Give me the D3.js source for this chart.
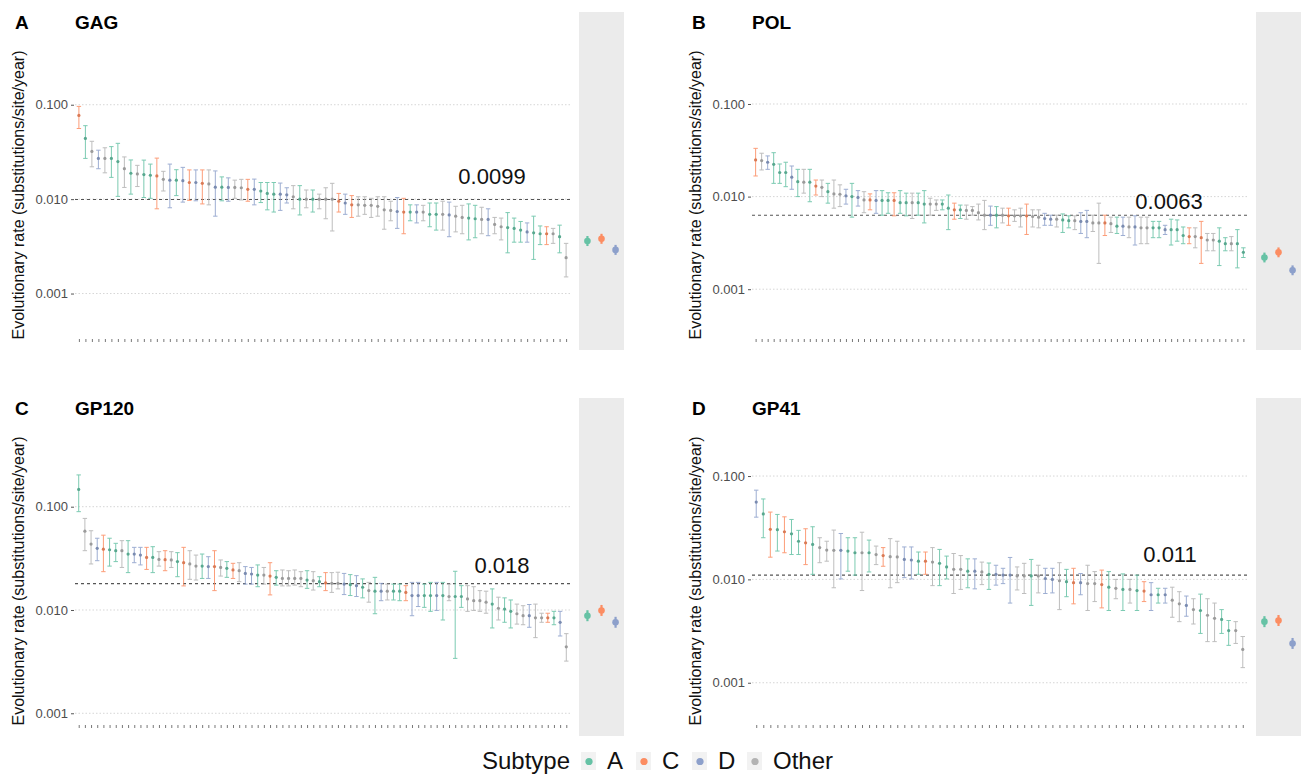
<!DOCTYPE html>
<html><head><meta charset="utf-8">
<script src="https://cdn.jsdelivr.net/npm/d3@7"></script>
<style>
body{margin:0;background:#fff}
svg{display:block}
text{font-family:"Liberation Sans",Arial,Helvetica,sans-serif}
</style>
</head><body>
<svg id="chart" width="1306" height="776"></svg>
<script>
// ---- subtype palette ----
const subtypeNames = ["A", "C", "D", "Other"];
const subtypeColors = ["#66c2a5", "#fc8d62", "#8da0cb", "#b3b3b3"];

// ---- GAG ----
const gagSubtype = "C A O D O A A O A O A A C O D A D C D C O D A D O O C D A A A D D O A O A O O O C D C O O O O O O D C A D O A A O D O O A A O D O O A A A D A A C O A O".split(" ");
const gagRate = [0.077,0.044,0.032,0.027,0.027,0.027,0.025,0.021,0.0188,0.0185,0.0182,0.0179,0.0176,0.0162,0.0159,0.0159,0.0157,0.0150,0.0150,0.0147,0.0145,0.0134,0.0134,0.0133,0.0133,0.0132,0.0127,0.0127,0.0122,0.0115,0.0113,0.0113,0.0111,0.0106,0.0100,0.0100,0.0100,
0.0100,0.0100,0.0100,0.0095,0.0091,0.0087,0.0087,0.0086,0.0086,0.0084,0.0077,0.0076,0.0074,0.0073,0.0073,0.0073,0.0073,0.0069,0.0069,0.0069,0.0068,0.0066,0.0064,0.0063,0.0062,0.0061,0.0061,0.0054,0.0051,0.0050,0.0049,0.0047,0.0045,0.0044,0.0043,0.0043,0.0043,0.0040,0.0024];
const gagUpper = [0.096,0.060,0.041,0.033,0.035,0.036,0.039,0.028,0.026,0.0228,0.0259,0.0235,0.0272,0.0197,0.0235,0.0205,0.0217,0.0204,0.0204,0.0204,0.0204,0.0199,0.0172,0.0168,0.0159,0.0162,0.0162,0.0163,0.0150,0.0150,0.0150,0.0148,0.0132,0.0139,0.0139,0.0125,0.0125,
0.0113,0.0132,0.0147,0.0115,0.0113,0.0109,0.0106,0.0106,0.0102,0.0106,0.0106,0.0095,0.0104,0.0102,0.0087,0.0087,0.0086,0.0091,0.0091,0.0095,0.0093,0.0084,0.0086,0.0089,0.0086,0.0082,0.0079,0.0064,0.0063,0.0072,0.0063,0.0058,0.0056,0.0066,0.0052,0.0051,0.0049,0.0053,0.0034];
const gagLower = [0.056,0.027,0.022,0.021,0.019,0.017,0.0107,0.0133,0.0113,0.0136,0.0104,0.0102,0.0079,0.0122,0.0081,0.0109,0.0093,0.0097,0.0096,0.0089,0.0087,0.0066,0.0096,0.0095,0.0102,0.0098,0.0095,0.0087,0.0092,0.0077,0.0073,0.0076,0.0091,0.0079,0.0068,0.0081,0.0073,
0.0079,0.0062,0.0046,0.0073,0.0069,0.0064,0.0066,0.0069,0.0064,0.0066,0.0048,0.0059,0.0049,0.0043,0.0059,0.0056,0.0059,0.0051,0.0047,0.0047,0.0040,0.0045,0.0043,0.0037,0.0039,0.0043,0.0041,0.0043,0.0037,0.0027,0.0035,0.0035,0.0035,0.0023,0.0033,0.0033,0.0034,0.0027,0.0015];

// ---- POL ----
const polSubtype = "C O D A A A D A O A C O A O O D A D O C D A A C A A O A A O O A A C A O O O O D A O C O O C O O D D O A A O D D O O C O A D O D O O A A D A A A C O C O O A A O A A".split(" ");
const polRate = [0.0249,0.0245,0.0235,0.0223,0.0182,0.0182,0.0162,0.0145,0.0143,0.0143,0.0130,0.0126,0.0113,0.0107,0.0106,0.0102,0.0100,0.0098,0.0092,0.0092,0.0091,0.0091,0.0091,0.0091,0.0086,0.0086,0.0086,0.0086,0.0083,0.0083,0.0083,0.0083,0.0075,0.0072,0.0072,0.0071,0.0071,0.0067,0.0063,0.0063,0.0063,0.0063,0.0062,0.0062,0.0062,0.0062,0.0061,0.0060,0.0058,0.0057,0.0057,0.0056,0.0055,0.0055,0.0054,0.0054,0.0052,0.0052,0.0052,0.0051,0.0048,0.0048,0.0047,0.0047,0.0046,0.0046,0.0046,0.0046,0.0044,0.0044,0.0044,0.0038,0.0037,0.0037,0.0036,0.0034,0.0034,0.0033,0.0031,0.0031,0.0031,0.0025];
const polUpper = [0.0332,0.0294,0.0275,0.0298,0.0225,0.0235,0.0214,0.0197,0.0197,0.0197,0.0151,0.0151,0.0139,0.0151,0.0134,0.0120,0.0139,0.0116,0.0113,0.0107,0.0116,0.0116,0.0110,0.0110,0.0116,0.0109,0.0109,0.0109,0.0116,0.0096,0.0092,0.0092,0.0104,0.0085,0.0081,0.0081,0.0078,0.0083,0.0091,0.0079,0.0078,0.0075,0.0075,0.0072,0.0075,0.0083,0.0072,0.0072,0.0066,0.0063,0.0063,0.0065,0.0062,0.0062,0.0067,0.0071,0.0063,0.0085,0.0063,0.0060,0.0060,0.0060,0.0060,0.0062,0.0060,0.0060,0.0054,0.0054,0.0049,0.0057,0.0056,0.0047,0.0046,0.0046,0.0054,0.0040,0.0040,0.0046,0.0036,0.0037,0.0044,0.0028];
const polLower = [0.0167,0.0194,0.0197,0.0139,0.0139,0.0128,0.0120,0.0100,0.0109,0.0088,0.0104,0.0100,0.0085,0.0075,0.0078,0.0083,0.0060,0.0079,0.0067,0.0072,0.0066,0.0063,0.0066,0.0062,0.0066,0.0062,0.0058,0.0063,0.0052,0.0063,0.0071,0.0072,0.0044,0.0057,0.0058,0.0057,0.0063,0.0056,0.0044,0.0049,0.0046,0.0052,0.0049,0.0054,0.0047,0.0039,0.0047,0.0046,0.0049,0.0049,0.0047,0.0041,0.0046,0.0044,0.0040,0.0036,0.0042,0.0019,0.0038,0.0041,0.0040,0.0038,0.0036,0.0030,0.0031,0.0031,0.0036,0.0036,0.0039,0.0030,0.0033,0.0031,0.0031,0.0028,0.0019,0.0026,0.0026,0.0018,0.0026,0.0026,0.0017,0.0022];

// ---- GP120 ----
const gp120Subtype = "A O O D C A A O A D D C A O C O A C O O A D C O A C O D D A O C A O O O O A O A C O O D A D A O A D O A A C D D A A D A O A A O O O O A O A A O O D O O C A D O".split(" ");
const gp120Rate = [0.147,0.058,0.0435,0.0395,0.0388,0.0383,0.0375,0.0375,0.0348,0.0348,0.0340,0.0323,0.0323,0.0309,0.0307,0.0305,0.0294,0.0287,0.0279,0.0266,0.0266,0.0263,0.0263,0.0258,0.0253,0.0244,0.0240,0.0226,0.0223,0.0218,0.0218,0.0213,0.0207,0.0202,0.0202,0.0202,0.0202,0.0195,0.0192,0.0188,0.0183,0.0181,0.0181,0.0178,0.0176,0.0172,0.0166,0.0154,0.0152,0.0152,0.0152,0.0152,0.0152,0.0148,0.0138,0.0138,0.0138,0.0138,0.0138,0.0138,0.0135,0.0135,0.0135,0.0128,0.0123,0.0123,0.0119,0.0114,0.0104,0.0102,0.0097,0.0092,0.0088,0.0088,0.0084,0.0084,0.0084,0.0084,0.0076,0.0044];
const gp120Upper = [0.203,0.077,0.0585,0.0495,0.053,0.0495,0.0442,0.0469,0.0469,0.0404,0.0404,0.0404,0.0410,0.0367,0.0375,0.0367,0.0359,0.0404,0.0375,0.0340,0.0348,0.0328,0.0375,0.0305,0.0294,0.0283,0.0287,0.0263,0.0258,0.0273,0.0258,0.0287,0.0240,0.0244,0.0240,0.0244,0.0235,0.0240,0.0235,0.0210,0.0230,0.0230,0.0232,0.0226,0.0220,0.0215,0.0200,0.0185,0.0207,0.0181,0.0178,0.0178,0.0178,0.0172,0.0185,0.0185,0.0178,0.0185,0.0185,0.0185,0.0178,0.0237,0.0172,0.0172,0.0168,0.0154,0.0152,0.0160,0.0133,0.0131,0.0125,0.0114,0.0110,0.0113,0.0114,0.0093,0.0093,0.0097,0.0097,0.0059];
const gp120Lower = [0.0895,0.0375,0.0279,0.030,0.0235,0.0266,0.0294,0.0258,0.0230,0.0287,0.0273,0.0247,0.0230,0.0266,0.0240,0.0258,0.0210,0.0171,0.0198,0.0195,0.0202,0.0202,0.0154,0.0213,0.0207,0.0202,0.0188,0.0178,0.0178,0.0168,0.0178,0.0140,0.0174,0.0171,0.0171,0.0174,0.0168,0.0162,0.0156,0.0168,0.0154,0.0148,0.0160,0.0141,0.0138,0.0135,0.0131,0.0119,0.0092,0.0123,0.0125,0.0125,0.0123,0.0123,0.0088,0.0108,0.0106,0.0097,0.0099,0.0080,0.0123,0.0034,0.0106,0.0097,0.0099,0.0097,0.0093,0.0067,0.0080,0.0076,0.0067,0.0073,0.0072,0.0068,0.0054,0.0076,0.0076,0.0072,0.0056,0.0032];

// ---- GP41 ----
const gp41Subtype = "D A C A C A A C A O O O D A A O A O C O O D D A C O A A O O A D O A D D D O O A O D D O A C D O O C A O A O A C D A D O O D O A O O A A O O".split(" ");
const gp41Rate = [0.056,0.043,0.0305,0.0303,0.0289,0.0276,0.0234,0.0226,0.0218,0.0203,0.0192,0.0191,0.0191,0.0188,0.0181,0.0181,0.0181,0.0174,0.0170,0.0166,0.0165,0.0156,0.0154,0.0150,0.0150,0.0147,0.0143,0.0132,0.0125,0.0125,0.0120,0.0120,0.0118,0.0112,0.0112,0.0110,0.0110,0.0108,0.0108,0.0108,0.0108,0.0102,0.0100,0.0097,0.0095,0.0093,0.0093,0.0091,0.0091,0.0089,0.0084,0.0082,0.0080,0.0080,0.0078,0.0077,0.0071,0.0071,0.0071,0.0063,0.0058,0.0056,0.0051,0.0050,0.0045,0.0042,0.0041,0.0032,0.0032,0.0021];
const gp41Upper = [0.073,0.060,0.0448,0.0425,0.0403,0.0380,0.0298,0.0309,0.0323,0.0253,0.0234,0.0300,0.0278,0.0253,0.0253,0.0286,0.0240,0.0210,0.0203,0.0248,0.0234,0.0206,0.0206,0.0184,0.0184,0.0203,0.0195,0.0168,0.0178,0.0170,0.0158,0.0158,0.0147,0.0144,0.0137,0.0128,0.0163,0.0132,0.0143,0.0156,0.0137,0.0128,0.0128,0.0145,0.0125,0.0128,0.0114,0.0137,0.0119,0.0123,0.0119,0.0100,0.0113,0.0100,0.0110,0.0095,0.0093,0.0082,0.0082,0.0084,0.0076,0.0069,0.0065,0.0072,0.0065,0.0059,0.0051,0.0040,0.0039,0.0028];
const gp41Lower = [0.040,0.0253,0.0164,0.0188,0.0181,0.0174,0.0174,0.0139,0.0112,0.0145,0.0150,0.0083,0.0101,0.0120,0.0110,0.0078,0.0118,0.0139,0.0134,0.0083,0.0093,0.0104,0.0101,0.0112,0.0112,0.0087,0.0087,0.0101,0.0073,0.0080,0.0083,0.0081,0.0089,0.0080,0.0088,0.0091,0.0059,0.0079,0.0073,0.0056,0.0074,0.0073,0.0074,0.0051,0.0068,0.0058,0.0071,0.0050,0.0061,0.0053,0.0050,0.0065,0.0050,0.0059,0.0050,0.0061,0.0050,0.0059,0.0059,0.0043,0.0039,0.0044,0.0037,0.0030,0.0025,0.0025,0.0030,0.0023,0.0024,0.0014];

// ---- pooled estimates per subtype (A, C, D) ----
const pooledSubtypes = ["A", "C", "D"];
const gagPooled = [0.0036, 0.0038, 0.0029];
const polPooled = [0.0022, 0.0025, 0.0016];
const gp120Pooled = [0.0088, 0.0099, 0.0076];
const gp41Pooled = [0.0039, 0.0040, 0.0024];
const pooledSpread = 1.13;   // multiplicative half-width of pooled intervals

// ---- overall mean rate per gene ----
const geneNames = ["GAG", "POL", "GP120", "GP41"];
const geneMeans = [0.0099, 0.0063, 0.018, 0.011];
const geneMeanLabels = ["0.0099", "0.0063", "0.018", "0.011"];
const yTickValues = [0.001, 0.01, 0.1];
const yTickLabels = ["0.001", "0.010", "0.100"];
// axis limits on the log scale
const yLimits = [[0.00033, 0.96], [0.00029, 0.985], [0.00077, 1.128], [0.00039, 0.569]];

// ---- layout ----
const svg = d3.select("#chart");
const colour = d3.scaleOrdinal().domain(subtypeNames).range(subtypeColors);
const colourOf = s => colour(s === "O" ? "Other" : s);

const panels = [
  {letter: "A", subtype: gagSubtype, rate: gagRate, lower: gagLower, upper: gagUpper, pooled: gagPooled, ox: 0, oy: 0, labelX: 492, labelDy: -16},
  {letter: "B", subtype: polSubtype, rate: polRate, lower: polLower, upper: polUpper, pooled: polPooled, ox: 677, oy: 0, labelX: 1169, labelDy: -6},
  {letter: "C", subtype: gp120Subtype, rate: gp120Rate, lower: gp120Lower, upper: gp120Upper, pooled: gp120Pooled, ox: 0, oy: 386, labelX: 502, labelDy: -10.5},
  {letter: "D", subtype: gp41Subtype, rate: gp41Rate, lower: gp41Lower, upper: gp41Upper, pooled: gp41Pooled, ox: 677, oy: 386, labelX: 1170, labelDy: -13}
];

panels.forEach((p, k) => {
  const g = svg.append("g");
  const left = 75 + p.ox, right = 570 + p.ox;
  const top = 12 + p.oy, bottom = 339 + p.oy;
  const sideL = 579 + p.ox, sideR = 624 + p.ox, sideBottom = 350 + p.oy;

  const y = d3.scaleLog().domain(yLimits[k]).range([bottom, top]);
  const idx = d3.range(p.rate.length);
  const x = d3.scalePoint().domain(idx).range([left, right]).padding(0.6);

  // panel letter and gene title
  g.append("text").attr("x", 15 + p.ox).attr("y", 29 + p.oy)
    .attr("font-size", 19).attr("font-weight", "bold").text(p.letter);
  g.append("text").attr("x", 75 + p.ox).attr("y", 29 + p.oy)
    .attr("font-size", 19).attr("font-weight", "bold").text(geneNames[k]);

  // y-axis title
  g.append("text")
    .attr("transform", `translate(${24 + p.ox},${195 + p.oy}) rotate(-90)`)
    .attr("text-anchor", "middle").attr("font-size", 16).attr("fill", "#111")
    .text("Evolutionary rate (substitutions/site/year)");

  // grid lines
  g.selectAll(".grid").data(yTickValues).join("line")
    .attr("x1", left).attr("x2", right)
    .attr("y1", d => y(d)).attr("y2", d => y(d))
    .attr("stroke", "#d6d6d6").attr("stroke-width", 1).attr("stroke-dasharray", "1.5,2");

  // y axis
  const yAxis = d3.axisLeft(y).tickValues(yTickValues)
    .tickFormat((d, i) => yTickLabels[i]).tickSize(3).tickPadding(3);
  const ya = g.append("g").attr("transform", `translate(${left - 1},0)`).call(yAxis);
  ya.select(".domain").remove();
  ya.selectAll(".tick line").attr("stroke", "#555");
  ya.selectAll(".tick text").attr("fill", "#4d4d4d").attr("font-size", 13)
    .attr("font-family", '"Liberation Sans",Arial,sans-serif');

  // x axis: one tiny tick per sequence set, no labels
  const xAxis = d3.axisBottom(x).tickSize(3).tickFormat("");
  const xa = g.append("g").attr("transform", `translate(0,${bottom})`).call(xAxis);
  xa.select(".domain").remove();
  xa.selectAll(".tick line").attr("stroke", "#555").attr("stroke-width", 0.8);

  // mean rate reference
  g.append("line").attr("x1", left).attr("x2", right)
    .attr("y1", y(geneMeans[k])).attr("y2", y(geneMeans[k]))
    .attr("stroke", "#555").attr("stroke-width", 1.1).attr("stroke-dasharray", "3,3");
  g.append("text").attr("x", p.labelX).attr("y", y(geneMeans[k]) + p.labelDy)
    .attr("text-anchor", "middle").attr("font-size", 22).attr("fill", "#111")
    .text(geneMeanLabels[k]);

  // error bars
  const bars = g.append("g").selectAll("g").data(idx).join("g")
    .attr("stroke", i => colourOf(p.subtype[i])).attr("stroke-width", 1).attr("opacity", 0.85);
  bars.append("line").attr("x1", i => x(i)).attr("x2", i => x(i))
    .attr("y1", i => y(p.upper[i])).attr("y2", i => y(p.lower[i]));
  bars.append("line").attr("x1", i => x(i) - 2.2).attr("x2", i => x(i) + 2.2)
    .attr("y1", i => y(p.upper[i])).attr("y2", i => y(p.upper[i]));
  bars.append("line").attr("x1", i => x(i) - 2.2).attr("x2", i => x(i) + 2.2)
    .attr("y1", i => y(p.lower[i])).attr("y2", i => y(p.lower[i]));
  g.append("g").selectAll("circle").data(idx).join("circle")
    .attr("cx", i => x(i)).attr("cy", i => y(p.rate[i])).attr("r", 1.6)
    .attr("fill", i => d3.color(colourOf(p.subtype[i])).darker(0.4));

  // pooled estimates in the grey side panel
  g.append("rect").attr("x", sideL).attr("y", top).attr("width", sideR - sideL)
    .attr("height", sideBottom - top).attr("fill", "#ebebeb");
  const xs = d3.scalePoint().domain(pooledSubtypes).range([sideL, sideR]).padding(0.6);
  const pooled = g.append("g").selectAll("g").data(pooledSubtypes).join("g");
  pooled.append("line").attr("x1", s => xs(s)).attr("x2", s => xs(s))
    .attr("y1", (s, i) => y(p.pooled[i] * pooledSpread)).attr("y2", (s, i) => y(p.pooled[i] / pooledSpread))
    .attr("stroke", s => colour(s)).attr("stroke-width", 2.2);
  pooled.append("circle").attr("cx", s => xs(s)).attr("cy", (s, i) => y(p.pooled[i]))
    .attr("r", 3.3).attr("fill", s => colour(s));
});

// ---- legend ----
const legend = svg.append("g");
legend.append("text").attr("x", 570).attr("y", 769).attr("text-anchor", "end")
  .attr("font-size", 24).attr("fill", "#111").text("Subtype");
const keyX = [581, 636, 692, 747];
subtypeNames.forEach((s, i) => {
  legend.append("rect").attr("x", keyX[i]).attr("y", 752).attr("width", 15).attr("height", 18).attr("fill", "#f2f2f2");
  legend.append("circle").attr("cx", keyX[i] + 8).attr("cy", 761.5).attr("r", 3.6).attr("fill", colour(s));
  legend.append("text").attr("x", keyX[i] + 26).attr("y", 769).attr("font-size", 24).attr("fill", "#111").text(s);
});
</script>
</body></html>
